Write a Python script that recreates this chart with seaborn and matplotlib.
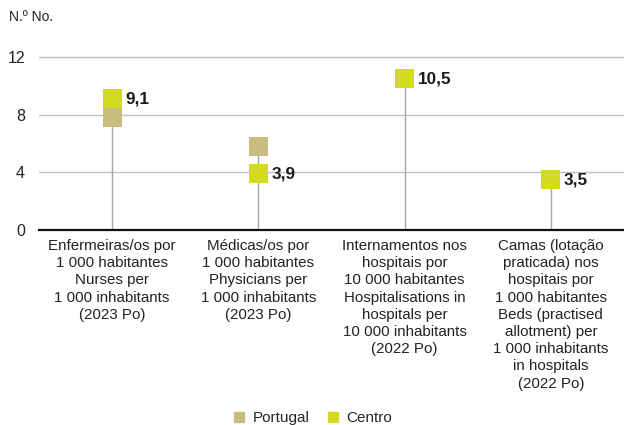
import matplotlib
matplotlib.use("Agg")
import matplotlib.pyplot as plt
import seaborn as sns
import pandas as pd
import numpy as np
from matplotlib.lines import Line2D

categories = [
    "Enfermeiras/os por\n1 000 habitantes\nNurses per\n1 000 inhabitants\n(2023 Po)",
    "Médicas/os por\n1 000 habitantes\nPhysicians per\n1 000 inhabitants\n(2023 Po)",
    "Internamentos nos\nhospitais por\n10 000 habitantes\nHospitalisations in\nhospitals per\n10 000 inhabitants\n(2022 Po)",
    "Camas (lotação\npraticada) nos\nhospitais por\n1 000 habitantes\nBeds (practised\nallotment) per\n1 000 inhabitants\nin hospitals\n(2022 Po)",
]
portugal = [7.8, 5.8, 10.5, 3.5]
centro = [9.1, 3.9, 10.5, 3.5]
centro_labels = ["9,1", "3,9", "10,5", "3,5"]
yticks = [0, 4, 8, 12]

col_pt = "#C6BD7E"
col_ce = "#D3DA22"

sns.set_theme(style="white")
plt.rcParams["font.family"] = ["Liberation Sans", "DejaVu Sans"]

df = pd.DataFrame({
    "cat": list(range(len(categories))) * 2,
    "value": portugal + centro,
    "region": ["Portugal"] * len(categories) + ["Centro"] * len(categories),
})

fig = plt.figure(figsize=(6.24, 4.25), dpi=100)
ax = fig.add_axes([39 / 624, 1 - 230 / 425, 1 - 39 / 624, 177.4 / 425])

for y in yticks[1:]:
    ax.axhline(y, color="#BFBFBF", lw=1.0, zorder=0)

x = np.arange(len(categories))
tops = np.maximum(portugal, centro)
ax.vlines(x, 0, tops, color="#A6A6A6", lw=1.0, zorder=1)

sns.scatterplot(data=df, x="cat", y="value", hue="region",
                palette={"Portugal": col_pt, "Centro": col_ce},
                marker="s", s=190, linewidth=0, legend=False, ax=ax, zorder=3)

for xi, v, lab in zip(x, centro, centro_labels):
    ax.annotate(lab, (xi, v), xytext=(9.5, 0), textcoords="offset points",
                ha="left", va="center", fontsize=12.3, fontweight="bold",
                color="#1A1A1A", zorder=4)

ax.set_xlim(-0.5, 3.5)
ax.set_ylim(0, 12.3)
ax.set_yticks(yticks)
ax.set_yticklabels([str(t) for t in yticks], fontsize=11.5, color="#222222")
ax.set_xticks(x)
ax.set_xticklabels(categories, fontsize=10.9, color="#222222", linespacing=1.29)
ax.tick_params(axis="both", length=0)
ax.tick_params(axis="y", pad=10)
ax.tick_params(axis="x", pad=6.5)
ax.set_xlabel("")
ax.set_ylabel("")
for s in ["top", "right", "left"]:
    ax.spines[s].set_visible(False)
ax.spines["bottom"].set_color("#111111")
ax.spines["bottom"].set_linewidth(1.6)
ax.spines["bottom"].set_zorder(5)

fig.text(9 / 624, 1 - 17 / 425, "N.º No.", fontsize=10, color="#222222",
         ha="left", va="center")

handles = [
    Line2D([], [], marker="s", linestyle="", markersize=7, color=col_pt, label="Portugal"),
    Line2D([], [], marker="s", linestyle="", markersize=7, color=col_ce, label="Centro"),
]
fig.legend(handles=handles, loc="center", bbox_to_anchor=(0.5, 1 - 418 / 425),
           ncol=2, frameon=False, fontsize=11, handletextpad=0.4,
           columnspacing=1.1, handlelength=0.9)

fig.savefig("out.png", dpi=100)
